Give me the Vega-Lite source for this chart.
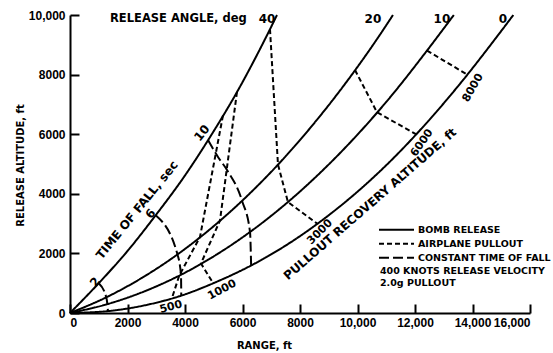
{
  "$schema": "https://vega.github.io/schema/vega-lite/v6.json",
  "width": 460,
  "height": 298,
  "autosize": "none",
  "padding": {"left": 70, "top": 15, "right": 23, "bottom": 40},
  "background": "white",
  "config": {
    "view": {"stroke": null},
    "font": "DejaVu Sans",
    "axis": {
      "domainColor": "black", "domainWidth": 2, "tickColor": "black", "tickWidth": 2,
      "labelColor": "black", "labelFont": "Liberation Sans", "labelFontWeight": "bold", "labelFontSize": 12,
      "titleColor": "black", "titleFont": "DejaVu Sans", "titleFontWeight": "bold", "titleFontSize": 10,
      "grid": false
    },
    "legend": {
      "labelFont": "DejaVu Sans", "labelFontWeight": "bold", "labelFontSize": 9.5, "labelColor": "black"
    }
  },
  "datasets": {
    "release": [
      {"type": "BOMB RELEASE", "curve": "40", "x": 0, "y": 0},
      {"type": "BOMB RELEASE", "curve": "40", "x": 1000, "y": 1000},
      {"type": "BOMB RELEASE", "curve": "40", "x": 2000, "y": 2080},
      {"type": "BOMB RELEASE", "curve": "40", "x": 2980, "y": 3280},
      {"type": "BOMB RELEASE", "curve": "40", "x": 3960, "y": 4560},
      {"type": "BOMB RELEASE", "curve": "40", "x": 4920, "y": 5980},
      {"type": "BOMB RELEASE", "curve": "40", "x": 5870, "y": 7520},
      {"type": "BOMB RELEASE", "curve": "40", "x": 6800, "y": 9220},
      {"type": "BOMB RELEASE", "curve": "40", "x": 7200, "y": 10000},
      {"type": "BOMB RELEASE", "curve": "20", "x": 0, "y": 0},
      {"type": "BOMB RELEASE", "curve": "20", "x": 1261, "y": 526},
      {"type": "BOMB RELEASE", "curve": "20", "x": 2507, "y": 1182},
      {"type": "BOMB RELEASE", "curve": "20", "x": 3738, "y": 1965},
      {"type": "BOMB RELEASE", "curve": "20", "x": 4953, "y": 2877},
      {"type": "BOMB RELEASE", "curve": "20", "x": 6154, "y": 3919},
      {"type": "BOMB RELEASE", "curve": "20", "x": 7340, "y": 5089},
      {"type": "BOMB RELEASE", "curve": "20", "x": 8510, "y": 6389},
      {"type": "BOMB RELEASE", "curve": "20", "x": 9665, "y": 7816},
      {"type": "BOMB RELEASE", "curve": "20", "x": 10805, "y": 9372},
      {"type": "BOMB RELEASE", "curve": "20", "x": 11234, "y": 10000},
      {"type": "BOMB RELEASE", "curve": "10", "x": 0, "y": 0},
      {"type": "BOMB RELEASE", "curve": "10", "x": 1300, "y": 298},
      {"type": "BOMB RELEASE", "curve": "10", "x": 2590, "y": 727},
      {"type": "BOMB RELEASE", "curve": "10", "x": 3860, "y": 1283},
      {"type": "BOMB RELEASE", "curve": "10", "x": 5110, "y": 1968},
      {"type": "BOMB RELEASE", "curve": "10", "x": 6350, "y": 2782},
      {"type": "BOMB RELEASE", "curve": "10", "x": 7580, "y": 3724},
      {"type": "BOMB RELEASE", "curve": "10", "x": 8800, "y": 4797},
      {"type": "BOMB RELEASE", "curve": "10", "x": 10010, "y": 5997},
      {"type": "BOMB RELEASE", "curve": "10", "x": 11210, "y": 7326},
      {"type": "BOMB RELEASE", "curve": "10", "x": 12400, "y": 8784},
      {"type": "BOMB RELEASE", "curve": "10", "x": 13350, "y": 10000},
      {"type": "BOMB RELEASE", "curve": "0", "x": 0, "y": 0},
      {"type": "BOMB RELEASE", "curve": "0", "x": 1320, "y": 64},
      {"type": "BOMB RELEASE", "curve": "0", "x": 2600, "y": 258},
      {"type": "BOMB RELEASE", "curve": "0", "x": 3860, "y": 580},
      {"type": "BOMB RELEASE", "curve": "0", "x": 5060, "y": 1030},
      {"type": "BOMB RELEASE", "curve": "0", "x": 6330, "y": 1610},
      {"type": "BOMB RELEASE", "curve": "0", "x": 7590, "y": 2318},
      {"type": "BOMB RELEASE", "curve": "0", "x": 8830, "y": 3156},
      {"type": "BOMB RELEASE", "curve": "0", "x": 10060, "y": 4122},
      {"type": "BOMB RELEASE", "curve": "0", "x": 11270, "y": 5216},
      {"type": "BOMB RELEASE", "curve": "0", "x": 12460, "y": 6440},
      {"type": "BOMB RELEASE", "curve": "0", "x": 13650, "y": 7792},
      {"type": "BOMB RELEASE", "curve": "0", "x": 14850, "y": 9274},
      {"type": "BOMB RELEASE", "curve": "0", "x": 15420, "y": 10000}
    ],
    "fall": [
      {"type": "CONSTANT TIME OF FALL", "curve": "2", "x": 1000, "y": 1000},
      {"type": "CONSTANT TIME OF FALL", "curve": "2", "x": 1261, "y": 526},
      {"type": "CONSTANT TIME OF FALL", "curve": "2", "x": 1300, "y": 298},
      {"type": "CONSTANT TIME OF FALL", "curve": "2", "x": 1320, "y": 64},
      {"type": "CONSTANT TIME OF FALL", "curve": "6", "x": 2980, "y": 3280},
      {"type": "CONSTANT TIME OF FALL", "curve": "6", "x": 3738, "y": 1965},
      {"type": "CONSTANT TIME OF FALL", "curve": "6", "x": 3860, "y": 1283},
      {"type": "CONSTANT TIME OF FALL", "curve": "6", "x": 3870, "y": 580},
      {"type": "CONSTANT TIME OF FALL", "curve": "10", "x": 4800, "y": 5803},
      {"type": "CONSTANT TIME OF FALL", "curve": "10", "x": 5148, "y": 5235},
      {"type": "CONSTANT TIME OF FALL", "curve": "10", "x": 5460, "y": 4800},
      {"type": "CONSTANT TIME OF FALL", "curve": "10", "x": 5982, "y": 3770},
      {"type": "CONSTANT TIME OF FALL", "curve": "10", "x": 6261, "y": 2724},
      {"type": "CONSTANT TIME OF FALL", "curve": "10", "x": 6300, "y": 1596}
    ],
    "pullout": [
      {"type": "AIRPLANE PULLOUT", "curve": "500", "o": 1, "x": 5321, "y": 6630},
      {"type": "AIRPLANE PULLOUT", "curve": "500", "o": 2, "x": 4522, "y": 2553},
      {"type": "AIRPLANE PULLOUT", "curve": "500", "o": 3, "x": 3800, "y": 1256},
      {"type": "AIRPLANE PULLOUT", "curve": "500", "o": 4, "x": 3547, "y": 500},
      {"type": "AIRPLANE PULLOUT", "curve": "1000", "o": 1, "x": 5808, "y": 7420},
      {"type": "AIRPLANE PULLOUT", "curve": "1000", "o": 2, "x": 5217, "y": 3106},
      {"type": "AIRPLANE PULLOUT", "curve": "1000", "o": 3, "x": 4556, "y": 1664},
      {"type": "AIRPLANE PULLOUT", "curve": "1000", "o": 4, "x": 4980, "y": 1000},
      {"type": "AIRPLANE PULLOUT", "curve": "3000", "o": 1, "x": 6956, "y": 9524},
      {"type": "AIRPLANE PULLOUT", "curve": "3000", "o": 2, "x": 7234, "y": 4984},
      {"type": "AIRPLANE PULLOUT", "curve": "3000", "o": 3, "x": 7580, "y": 3724},
      {"type": "AIRPLANE PULLOUT", "curve": "3000", "o": 4, "x": 8599, "y": 3000},
      {"type": "AIRPLANE PULLOUT", "curve": "6000", "o": 1, "x": 9913, "y": 8154},
      {"type": "AIRPLANE PULLOUT", "curve": "6000", "o": 2, "x": 10678, "y": 6737},
      {"type": "AIRPLANE PULLOUT", "curve": "6000", "o": 3, "x": 12032, "y": 6000},
      {"type": "AIRPLANE PULLOUT", "curve": "8000", "o": 1, "x": 12417, "y": 8806},
      {"type": "AIRPLANE PULLOUT", "curve": "8000", "o": 2, "x": 13818, "y": 8000}
    ]
  },
  "layer": [
    {
      "data": {"name": "release"},
      "mark": {"type": "line", "interpolate": "monotone", "stroke": "black", "strokeWidth": 2},
      "encoding": {
        "x": {"field": "x", "type": "quantitative", "scale": {"domain": [0, 16000], "nice": false},
          "axis": {"values": [0, 2000, 4000, 6000, 8000, 10000, 12000, 14000, 16000], "tickSize": -9, "labelPadding": 13,
            "labelExpr": "datum.value >= 10000 ? format(datum.value, ',') : format(datum.value, 'd')",
            "title": "RANGE, ft", "titleX": 194, "titleY": 27}},
        "y": {"field": "y", "type": "quantitative", "scale": {"domain": [0, 10000], "nice": false},
          "axis": {"values": [0, 2000, 4000, 6000, 8000, 10000], "tickSize": -9, "labelPadding": 14,
            "labelExpr": "datum.value >= 10000 ? format(datum.value, ',') : format(datum.value, 'd')",
            "title": "RELEASE ALTITUDE, ft", "titleX": -45, "titleY": 150}},
        "detail": {"field": "curve"},
        "strokeDash": {"field": "type", "type": "nominal",
          "scale": {"domain": ["BOMB RELEASE", "AIRPLANE PULLOUT", "CONSTANT TIME OF FALL"], "range": [[1, 0], [5, 3], [10, 4]]},
          "legend": {"orient": "none", "legendX": 308, "legendY": 208, "title": null, "symbolType": "stroke",
            "symbolSize": 1225, "symbolStrokeWidth": 2, "symbolStrokeColor": "black", "clipHeight": 13.5, "rowPadding": 0,
            "labelOffset": 3, "padding": 0}}
      }
    },
    {
      "data": {"name": "fall"},
      "mark": {"type": "line", "interpolate": "monotone", "stroke": "black", "strokeWidth": 2},
      "encoding": {
        "x": {"field": "x", "type": "quantitative"},
        "y": {"field": "y", "type": "quantitative"},
        "detail": {"field": "curve"},
        "strokeDash": {"field": "type", "type": "nominal",
          "scale": {"domain": ["BOMB RELEASE", "AIRPLANE PULLOUT", "CONSTANT TIME OF FALL"], "range": [[1, 0], [5, 3], [10, 4]]}}
      }
    },
    {
      "data": {"name": "pullout"},
      "mark": {"type": "line", "stroke": "black", "strokeWidth": 2},
      "encoding": {
        "x": {"field": "x", "type": "quantitative"},
        "y": {"field": "y", "type": "quantitative"},
        "detail": {"field": "curve"},
        "order": {"field": "o"},
        "strokeDash": {"field": "type", "type": "nominal",
          "scale": {"domain": ["BOMB RELEASE", "AIRPLANE PULLOUT", "CONSTANT TIME OF FALL"], "range": [[1, 0], [5, 3], [10, 4]]}}
      }
    },
    {
      "data": {"values": [
        {"label": "RELEASE ANGLE, deg", "x": 1391, "y": 9850}
      ]},
      "mark": {"type": "text", "align": "left", "baseline": "middle", "fontWeight": "bold", "fontSize": 11.5, "color": "black"},
      "encoding": {"x": {"field": "x", "type": "quantitative"}, "y": {"field": "y", "type": "quantitative"}, "text": {"field": "label"}}
    },
    {
      "data": {"values": [
        {"label": "40", "x": 6852, "y": 9850},
        {"label": "20", "x": 10538, "y": 9850},
        {"label": "10", "x": 12938, "y": 9850},
        {"label": "0", "x": 15060, "y": 9850}
      ]},
      "mark": {"type": "text", "align": "center", "baseline": "middle", "fontWeight": "bold", "fontSize": 12, "color": "black"},
      "encoding": {"x": {"field": "x", "type": "quantitative"}, "y": {"field": "y", "type": "quantitative"}, "text": {"field": "label"}}
    },
    {
      "data": {"values": [
        {"label": "TIME OF FALL, sec", "x": 2330, "y": 3457},
        {"label": "2", "x": 870, "y": 1040},
        {"label": "6", "x": 2800, "y": 3330},
        {"label": "10", "x": 4591, "y": 6040}
      ]},
      "mark": {"type": "text", "align": "center", "baseline": "middle", "fontWeight": "bold", "fontSize": 12, "angle": -51, "color": "black"},
      "encoding": {"x": {"field": "x", "type": "quantitative"}, "y": {"field": "y", "type": "quantitative"}, "text": {"field": "label"}}
    },
    {
      "data": {"values": [{"label": "PULLOUT RECOVERY ALTITUDE, ft", "x": 10434, "y": 3658}]},
      "mark": {"type": "text", "align": "center", "baseline": "middle", "fontWeight": "bold", "fontSize": 12, "angle": -41, "color": "black"},
      "encoding": {"x": {"field": "x", "type": "quantitative"}, "y": {"field": "y", "type": "quantitative"}, "text": {"field": "label"}}
    },
    {
      "data": {"values": [{"label": "500", "x": 3513, "y": 201}]},
      "mark": {"type": "text", "align": "center", "baseline": "middle", "fontWeight": "bold", "fontSize": 11, "angle": -15, "color": "black"},
      "encoding": {"x": {"field": "x", "type": "quantitative"}, "y": {"field": "y", "type": "quantitative"}, "text": {"field": "label"}}
    },
    {
      "data": {"values": [{"label": "1000", "x": 5287, "y": 772}]},
      "mark": {"type": "text", "align": "center", "baseline": "middle", "fontWeight": "bold", "fontSize": 11, "angle": -28, "color": "black"},
      "encoding": {"x": {"field": "x", "type": "quantitative"}, "y": {"field": "y", "type": "quantitative"}, "text": {"field": "label"}}
    },
    {
      "data": {"values": [{"label": "3000", "x": 8695, "y": 2718}]},
      "mark": {"type": "text", "align": "center", "baseline": "middle", "fontWeight": "bold", "fontSize": 11, "angle": -45, "color": "black"},
      "encoding": {"x": {"field": "x", "type": "quantitative"}, "y": {"field": "y", "type": "quantitative"}, "text": {"field": "label"}}
    },
    {
      "data": {"values": [{"label": "6000", "x": 12243, "y": 5705}]},
      "mark": {"type": "text", "align": "center", "baseline": "middle", "fontWeight": "bold", "fontSize": 11, "angle": -55, "color": "black"},
      "encoding": {"x": {"field": "x", "type": "quantitative"}, "y": {"field": "y", "type": "quantitative"}, "text": {"field": "label"}}
    },
    {
      "data": {"values": [{"label": "8000", "x": 14017, "y": 7551}]},
      "mark": {"type": "text", "align": "center", "baseline": "middle", "fontWeight": "bold", "fontSize": 11, "angle": -60, "color": "black"},
      "encoding": {"x": {"field": "x", "type": "quantitative"}, "y": {"field": "y", "type": "quantitative"}, "text": {"field": "label"}}
    },
    {
      "data": {"values": [
        {"label": "400 KNOTS RELEASE VELOCITY", "x": 10782, "y": 1410},
        {"label": "2.0g PULLOUT", "x": 10782, "y": 1007}
      ]},
      "mark": {"type": "text", "align": "left", "baseline": "middle", "fontWeight": "bold", "fontSize": 9.5, "color": "black"},
      "encoding": {"x": {"field": "x", "type": "quantitative"}, "y": {"field": "y", "type": "quantitative"}, "text": {"field": "label"}}
    }
  ]
}
